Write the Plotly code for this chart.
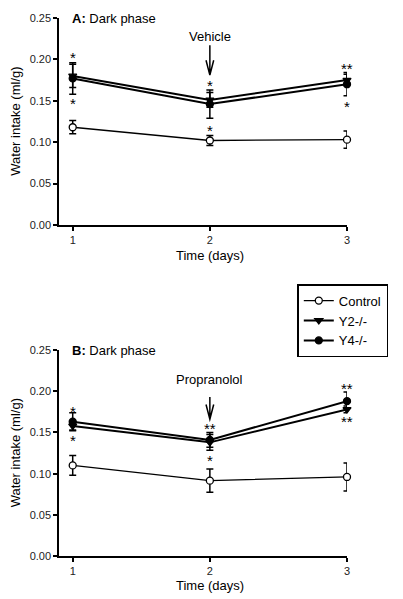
import plotly.graph_objects as go

# ---------------- data ----------------
days = [1, 2, 3]

# Panel A (vehicle)
control_a = [0.118, 0.102, 0.103]
control_a_err = [0.008, 0.006, 0.0105]
y2_a = [0.180, 0.151, 0.175]
y2_a_err = [0.014, 0.009, 0.007]
y4_a = [0.177, 0.146, 0.170]
y4_a_err = [0.019, 0.017, 0.014]

# Panel B (propranolol)
control_b = [0.110, 0.0915, 0.096]
control_b_err = [0.012, 0.014, 0.017]
y2_b = [0.158, 0.138, 0.178]
y2_b_err = [0.005, 0.0095, 0.004]
y4_b = [0.163, 0.141, 0.188]
y4_b_err = [0.011, 0.009, 0.011]

y_ticks = [0.00, 0.05, 0.10, 0.15, 0.20, 0.25]
x_ticks = [1, 2, 3]

# significance marks: (day, y value, text)
sig_a = [(1, 0.2025, "*"), (1, 0.1463, "*"), (2, 0.169, "*"), (2, 0.114, "*"),
         (3, 0.1885, "**"), (3, 0.1435, "*")]
sig_b = [(1, 0.1758, "*"), (1, 0.1404, "*"), (2, 0.1545, "**"), (2, 0.1154, "*"),
         (3, 0.2028, "**"), (3, 0.1628, "**")]

FONT = "Arial, Liberation Sans, sans-serif"

# page body adds an 8px margin, so the figure is drawn 8px smaller and offset
OFF = 8
W, H = 403 - OFF, 599 - OFF
ml = 58.7 - OFF
mr = W - (346.7 - OFF)
mt = 17.7 - OFF
mb = H - (556 - OFF)
pw = W - ml - mr
ph = H - mt - mb


def px(x):
    return (x - OFF - ml) / pw


def py(y):
    return 1 - (y - OFF - mt) / ph


fig = go.Figure()


def add_series(x, y, err, name, symbol, fill, lw, xa, ya, show):
    fig.add_trace(go.Scatter(
        x=x, y=y, name=name, mode="lines+markers",
        line=dict(color="black", width=lw),
        marker=dict(symbol=symbol, size=7, color=fill,
                    line=dict(color="black", width=1.3)),
        error_y=dict(type="data", array=err, visible=True, color="black",
                     thickness=1.5, width=3.5),
        xaxis=xa, yaxis=ya, showlegend=show, cliponaxis=False,
    ))


add_series(days, control_a, control_a_err, "Control", "circle", "white", 1.3, "x", "y", True)
add_series(days, y2_a, y2_a_err, "Y2-/-", "triangle-down", "black", 2, "x", "y", True)
add_series(days, y4_a, y4_a_err, "Y4-/-", "circle", "black", 2, "x", "y", True)

add_series(days, control_b, control_b_err, "Control", "circle", "white", 1.3, "x2", "y2", False)
add_series(days, y2_b, y2_b_err, "Y2-/-", "triangle-down", "black", 2, "x2", "y2", False)
add_series(days, y4_b, y4_b_err, "Y4-/-", "circle", "black", 2, "x2", "y2", False)

axis_common = dict(showgrid=False, zeroline=False, showline=True, linecolor="black",
                   linewidth=1.5, ticks="outside", ticklen=4, tickwidth=1.5,
                   tickcolor="black", tickfont=dict(family=FONT, size=11, color="#222"))

fig.update_layout(
    width=W, height=H,
    margin=dict(l=ml, r=mr, t=mt, b=mb, autoexpand=False),
    paper_bgcolor="white", plot_bgcolor="white",
    font=dict(family=FONT, color="black"),
    xaxis=dict(domain=[0, 1], range=[0.9, 3.0], tickvals=x_ticks, anchor="y", **axis_common),
    yaxis=dict(domain=[py(224.7), 1.0], range=[0, 0.25], tickvals=y_ticks,
               tickformat=".2f", anchor="x", **axis_common),
    xaxis2=dict(domain=[0, 1], range=[0.9, 3.0], tickvals=x_ticks, anchor="y2", **axis_common),
    yaxis2=dict(domain=[0.0, py(350)], range=[0, 0.25], tickvals=y_ticks,
                tickformat=".2f", anchor="x2", **axis_common),
    legend=dict(x=px(297), y=py(284), xanchor="left", yanchor="top",
                bordercolor="black", borderwidth=1.5,
                font=dict(family=FONT, size=13, color="black"), itemwidth=30,
                bgcolor="white"),
)

ann = []
# panel titles
ann.append(dict(x=0.978, y=0.25, xref="x", yref="y", text="<b>A:</b> Dark phase",
                showarrow=False, xanchor="left", yanchor="middle",
                font=dict(family=FONT, size=13)))
ann.append(dict(x=0.978, y=0.25, xref="x2", yref="y2", text="<b>B:</b> Dark phase",
                showarrow=False, xanchor="left", yanchor="middle",
                font=dict(family=FONT, size=13)))
# treatment labels
ann.append(dict(x=2, y=0.228, xref="x", yref="y", text="Vehicle", showarrow=False,
                xanchor="center", yanchor="middle", font=dict(family=FONT, size=13)))
ann.append(dict(x=2, y=0.2144, xref="x2", yref="y2", text="Propranolol", showarrow=False,
                xanchor="center", yanchor="middle", font=dict(family=FONT, size=13)))
# significance
for d, yv, t in sig_a:
    ann.append(dict(x=d, y=yv, xref="x", yref="y", text=t, showarrow=False,
                    xanchor="center", yanchor="middle", font=dict(family=FONT, size=15)))
for d, yv, t in sig_b:
    ann.append(dict(x=d, y=yv, xref="x2", yref="y2", text=t, showarrow=False,
                    xanchor="center", yanchor="middle", font=dict(family=FONT, size=15)))
# axis titles
for yc in (121.2, 453.0):
    ann.append(dict(x=px(15), y=py(yc), xref="paper", yref="paper",
                    text="Water intake (ml/g)", textangle=-90, showarrow=False,
                    xanchor="center", yanchor="middle", font=dict(family=FONT, size=13)))
ann.append(dict(x=2, y=py(255.7), xref="x", yref="paper", text="Time (days)",
                showarrow=False, xanchor="center", yanchor="middle",
                font=dict(family=FONT, size=13)))
ann.append(dict(x=2, y=py(585.3), xref="x2", yref="paper", text="Time (days)",
                showarrow=False, xanchor="center", yanchor="middle",
                font=dict(family=FONT, size=13)))
fig.update_layout(annotations=ann)

# arrows
fig.add_shape(type="path", xref="x", yref="y",
              path="M 2,0.217 L 2,0.181 M 1.972,0.199 L 2,0.181 L 2.028,0.199",
              line=dict(color="black", width=1.5))
fig.add_shape(type="path", xref="x2", yref="y2",
              path="M 2,0.193 L 2,0.166 M 1.972,0.184 L 2,0.166 L 2.028,0.184",
              line=dict(color="black", width=1.5))

fig.write_html("out.html")
